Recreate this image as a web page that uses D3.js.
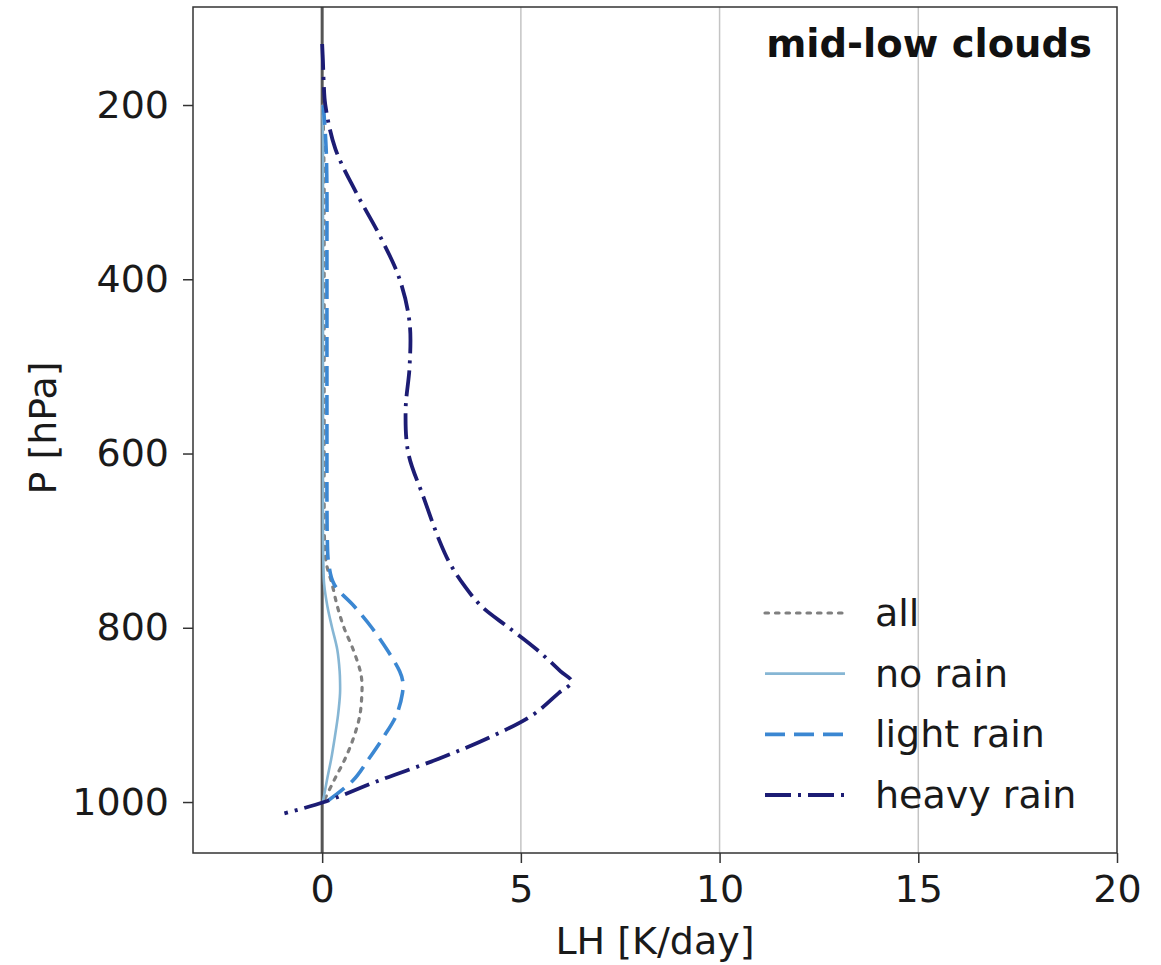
<!DOCTYPE html>
<html>
<head>
<meta charset="utf-8">
<script src="https://cdn.jsdelivr.net/npm/d3@7"></script>
<style>
  html, body { margin: 0; padding: 0; background: #fff; }
  svg { display: block; font-family: "DejaVu Sans", sans-serif; }
</style>
</head>
<body>
<svg id="chart" width="1161" height="965"></svg>
<script>
// pressure levels [hPa] shared by every profile
const pressure = [130, 150, 175, 200, 250, 300, 350, 400, 450, 500, 550, 600, 650, 700,
                  725, 750, 775, 800, 825, 850, 862, 875, 900, 925, 950, 975, 1000, 1013];

// latent heating profiles [K/day]; null = not plotted at that level
const lhAll = [null, null, null, 0.02, 0.04, 0.05, 0.05, 0.05, 0.05, 0.05, 0.05, 0.05, 0.05, 0.06,
               0.1, 0.25, 0.38, 0.55, 0.78, 0.96, 1.0, 1.0, 0.95, 0.8, 0.58, 0.3, 0.03, null];
const lhNoRain = [null, null, null, 0.01, 0.02, 0.02, 0.02, 0.02, 0.02, 0.02, 0.02, 0.02, 0.02, 0.02,
                  0.03, 0.05, 0.13, 0.25, 0.38, 0.44, 0.45, 0.45, 0.4, 0.32, 0.23, 0.12, 0.02, null];
const lhLightRain = [null, null, null, 0.03, 0.1, 0.12, 0.12, 0.12, 0.12, 0.12, 0.12, 0.12, 0.12, 0.13,
                     0.16, 0.3, 0.8, 1.25, 1.63, 1.95, 2.03, 2.02, 1.87, 1.55, 1.18, 0.78, 0.1, null];
const lhHeavyRain = [0.0, 0.02, 0.04, 0.08, 0.33, 0.85, 1.45, 1.95, 2.2, 2.2, 2.1, 2.17, 2.55, 2.95,
                     3.2, 3.55, 4.0, 4.7, 5.4, 6.0, 6.28, 5.95, 5.3, 4.25, 2.95, 1.45, 0.05, -0.95];

const seriesNames = ["all", "no rain", "light rain", "heavy rain"];
const xTicks = [0, 5, 10, 15, 20];
const yTicks = [200, 400, 600, 800, 1000];

const styles = [
  { color: "#7f7f7f", width: 3.2, dash: "3.5,7" },
  { color: "#86b6d4", width: 2.6, dash: null },
  { color: "#3b87d2", width: 3.6, dash: "20,9" },
  { color: "#1c1c74", width: 3.8, dash: "26,7,3,7" }
];
const profiles = [lhAll, lhNoRain, lhLightRain, lhHeavyRain];

const plot = { left: 193, top: 7, right: 1117, bottom: 853 };
const fontSize = 38;

const svg = d3.select("#chart");

const x = d3.scaleLinear().domain([-3.25, 20]).range([plot.left, plot.right]);
const y = d3.scaleLinear().domain([87.5, 1058.5]).range([plot.top, plot.bottom]);

// vertical grid lines
svg.append("g")
  .selectAll("line")
  .data([5, 10, 15])
  .join("line")
  .attr("x1", d => x(d)).attr("x2", d => x(d))
  .attr("y1", plot.top).attr("y2", plot.bottom)
  .attr("stroke", "#c4c4c4")
  .attr("stroke-width", 1.5);

// zero line
svg.append("line")
  .attr("x1", x(0)).attr("x2", x(0))
  .attr("y1", plot.top).attr("y2", plot.bottom)
  .attr("stroke", "#555")
  .attr("stroke-width", 3);

// profiles
const line = d3.line()
  .defined(d => d.v !== null)
  .x(d => x(d.v))
  .y(d => y(d.p))
  .curve(d3.curveCatmullRom.alpha(0.5));

profiles.forEach((vals, i) => {
  const data = pressure.map((p, k) => ({ p: p, v: vals[k] }));
  const s = styles[i];
  svg.append("path")
    .datum(data)
    .attr("d", line)
    .attr("fill", "none")
    .attr("stroke", s.color)
    .attr("stroke-width", s.width)
    .attr("stroke-dasharray", s.dash)
    .attr("stroke-linecap", i === 0 ? "round" : "butt");
});

// axes
const xAxis = d3.axisBottom(x).tickValues(xTicks).tickFormat(d3.format("d")).tickSize(10).tickPadding(12);
const yAxis = d3.axisLeft(y).tickValues(yTicks).tickFormat(d3.format("d")).tickSize(10).tickPadding(14);

const gx = svg.append("g")
  .attr("transform", `translate(0,${plot.bottom})`)
  .call(xAxis);
const gy = svg.append("g")
  .attr("transform", `translate(${plot.left},0)`)
  .call(yAxis);

[gx, gy].forEach(g => {
  g.select(".domain").remove();
  g.selectAll(".tick line").attr("stroke", "#333").attr("stroke-width", 1.5);
  g.selectAll(".tick text")
    .attr("font-family", "DejaVu Sans")
    .attr("font-size", fontSize)
    .attr("fill", "#1a1a1a");
});

// frame
svg.append("rect")
  .attr("x", plot.left).attr("y", plot.top)
  .attr("width", plot.right - plot.left)
  .attr("height", plot.bottom - plot.top)
  .attr("fill", "none")
  .attr("stroke", "#333")
  .attr("stroke-width", 1.5);

// axis labels
svg.append("text")
  .attr("x", 655)
  .attr("y", 954)
  .attr("text-anchor", "middle")
  .attr("font-size", fontSize)
  .attr("fill", "#1a1a1a")
  .text("LH [K/day]");

svg.append("text")
  .attr("transform", "translate(56,428) rotate(-90)")
  .attr("text-anchor", "middle")
  .attr("font-size", fontSize)
  .attr("fill", "#1a1a1a")
  .text("P [hPa]");

// panel title
svg.append("text")
  .attr("x", 1092)
  .attr("y", 57)
  .attr("text-anchor", "end")
  .attr("font-size", 38.5)
  .attr("font-weight", "bold")
  .attr("fill", "#111")
  .text("mid-low clouds");

// legend
const legendY = d3.scalePoint().domain(seriesNames).range([613, 795]);
const legend = svg.append("g");
seriesNames.forEach((name, i) => {
  const s = styles[i];
  const ly = legendY(name);
  legend.append("line")
    .attr("x1", 765).attr("x2", 845)
    .attr("y1", ly).attr("y2", ly)
    .attr("stroke", s.color)
    .attr("stroke-width", s.width)
    .attr("stroke-dasharray", s.dash)
    .attr("stroke-linecap", i === 0 ? "round" : "butt");
  legend.append("text")
    .attr("x", 875)
    .attr("y", ly + 13)
    .attr("font-size", fontSize)
    .attr("fill", "#1a1a1a")
    .text(name);
});
</script>
</body>
</html>
